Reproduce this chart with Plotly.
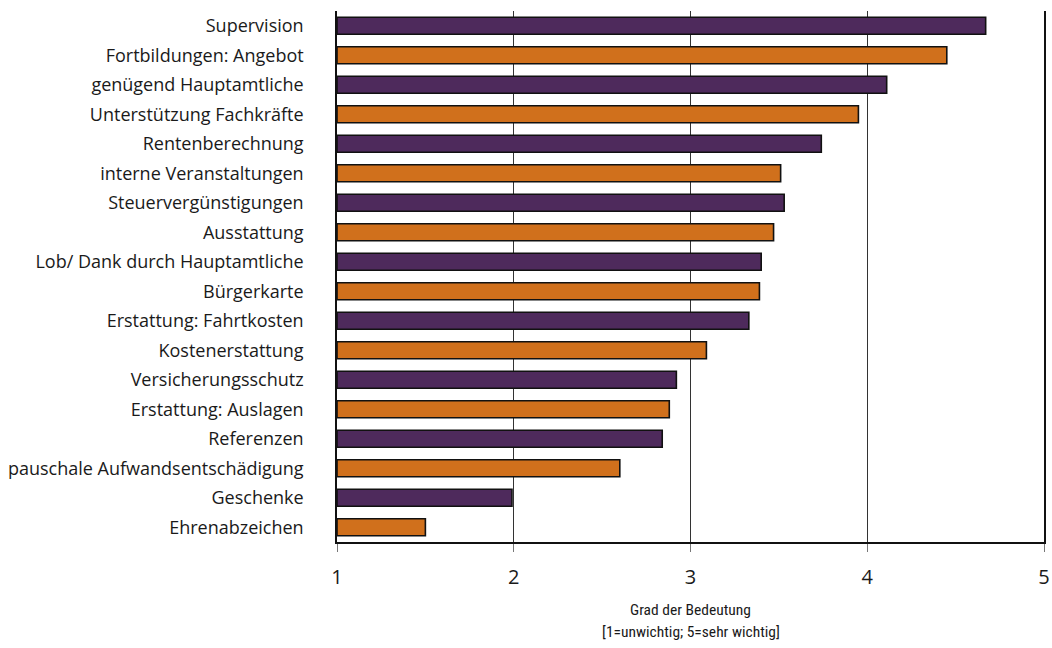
import plotly.graph_objects as go

categories = [
    "Supervision",
    "Fortbildungen: Angebot",
    "genügend Hauptamtliche",
    "Unterstützung Fachkräfte",
    "Rentenberechnung",
    "interne Veranstaltungen",
    "Steuervergünstigungen",
    "Ausstattung",
    "Lob/ Dank durch Hauptamtliche",
    "Bürgerkarte",
    "Erstattung: Fahrtkosten",
    "Kostenerstattung",
    "Versicherungsschutz",
    "Erstattung: Auslagen",
    "Referenzen",
    "pauschale Aufwandsentschädigung",
    "Geschenke",
    "Ehrenabzeichen",
]
values = [4.67, 4.45, 4.11, 3.95, 3.74, 3.51, 3.53, 3.47, 3.40, 3.39,
          3.33, 3.09, 2.92, 2.88, 2.84, 2.60, 1.99, 1.50]
tick_values = [1, 2, 3, 4, 5]
tick_labels = ["1", "2", "3", "4", "5"]
title_lines = ["Grad der Bedeutung", "[1=unwichtig; 5=sehr wichtig]"]

purple = "#4E2A5C"
orange = "#D0701C"
colors = [purple if i % 2 == 0 else orange for i in range(len(categories))]

base = 1
fig = go.Figure()
fig.add_trace(go.Bar(
    y=categories,
    x=[v - base for v in values],
    base=base,
    orientation="h",
    marker=dict(color=colors, line=dict(color="#111111", width=1.6)),
    showlegend=False,
    hoverinfo="skip",
))

fig.update_layout(
    width=1052, height=648,
    margin=dict(l=337, r=8, t=11, b=106),
    paper_bgcolor="white", plot_bgcolor="white",
    bargap=0.42,
    font=dict(family="Open Sans", color="#1a1a1a"),
    xaxis=dict(
        range=[1, 5],
        tickvals=tick_values,
        ticktext=tick_labels,
        tickfont=dict(size=20),
        ticks="outside", ticklen=8, tickcolor="#777777", tickwidth=1,
        ticklabelstandoff=8,
        showgrid=True, gridcolor="#333333", gridwidth=1,
        showline=True, linecolor="#111111", linewidth=1.5,
        zeroline=False, automargin=False,
    ),
    yaxis=dict(
        categoryorder="array", categoryarray=categories,
        autorange="reversed",
        tickfont=dict(size=18),
        ticks="", ticklabelstandoff=28,
        showline=True, linecolor="#111111", linewidth=1.5,
        mirror=True,
        showgrid=False, automargin=False,
    ),
)

for i, line in enumerate(title_lines):
    fig.add_annotation(
        text=line, xref="paper", yref="paper", x=0.5, y=0,
        yshift=-68 - 22 * i, yanchor="middle", showarrow=False,
        font=dict(family="Liberation Sans Narrow, Roboto Condensed, Roboto",
                  size=15.5, color="#1a1a1a"),
    )

fig.write_html(
    "out.html",
    config={"displayModeBar": False},
    post_script="document.body.style.margin='0';document.body.style.overflow='hidden';",
)
